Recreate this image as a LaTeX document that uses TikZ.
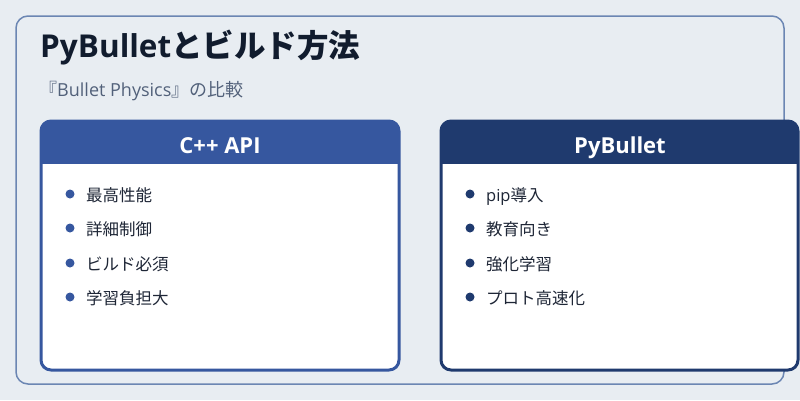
\documentclass[tikz,border=0pt]{standalone}
\usepackage{fontspec}
\setmainfont{Noto Sans CJK JP}
\newfontfamily\latin{Open Sans}
\definecolor{bg}{HTML}{E8EDF2}
\definecolor{outer}{HTML}{6B86B3}
\definecolor{hdrA}{HTML}{36579F}
\definecolor{hdrB}{HTML}{1F3A6E}
\definecolor{titlec}{HTML}{111C2E}
\definecolor{subc}{HTML}{52617A}
\definecolor{itemc}{HTML}{1E2636}
\tikzset{
  itemtext/.style={anchor=base west, inner sep=0pt, font=\fontsize{16.5}{19}\selectfont, text=itemc},
  hdrtext/.style={anchor=base, inner sep=0pt, font=\latin\bfseries\fontsize{22}{26}\selectfont, text=white},
}
\begin{document}
\begin{tikzpicture}[x=1pt,y=-1pt]
\useasboundingbox (0,0) rectangle (800,400);
\fill[bg] (0,0) rectangle (800,400);
\draw[outer, line width=1.5pt, rounded corners=12pt] (16,16) rectangle (784,384);
\node[anchor=base west, inner sep=0pt, font=\bfseries\fontsize{31.5}{38}\selectfont, text=titlec] (title) at (40,57) {{\latin PyBullet}とビルド方法};
\node[anchor=base west, inner sep=0pt, font=\fontsize{18}{21}\selectfont, text=subc] (sub) at (39,96) {『{\latin Bullet Physics}』の比較};
% left card
\fill[white, rounded corners=10pt] (41,121) rectangle (399,370);
\begin{scope}
\clip[rounded corners=10pt] (41,121) rectangle (399,370);
\fill[hdrA] (41,121) rectangle (399,164);
\end{scope}
\draw[hdrA, line width=3pt, rounded corners=10pt] (41,121) rectangle (399,370);
\node[hdrtext] (hA) at (220,153) {C++ API};
% right card
\fill[white, rounded corners=10pt] (441,121) rectangle (798,370);
\begin{scope}
\clip[rounded corners=10pt] (441,121) rectangle (798,370);
\fill[hdrB] (441,121) rectangle (798,164);
\end{scope}
\draw[hdrB, line width=3pt, rounded corners=10pt] (441,121) rectangle (798,370);
\node[hdrtext] (hB) at (620,153) {PyBullet};
% left items
\foreach \y/\t [count=\i] in {194/最高性能, 228/詳細制御, 263/ビルド必須, 297/学習負担大}{
  \fill[hdrA] (70,\y) circle (4.5pt);
  \node[itemtext] (a\i) at (86,\y+7.5) {\t};
}
\foreach \y/\t [count=\i] in {194/{\latin pip}導入, 228/教育向き, 263/強化学習, 297/プロト高速化}{
  \fill[hdrB] (470,\y) circle (4.5pt);
  \node[itemtext] (b\i) at (486,\y+7.5) {\t};
}
\end{tikzpicture}
\end{document}
